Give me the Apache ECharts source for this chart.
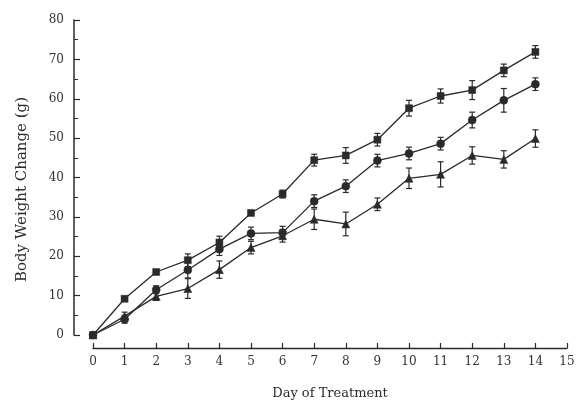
<!DOCTYPE html>
<html>
<head>
<meta charset="utf-8">
<style>
  html, body { margin: 0; padding: 0; background: #ffffff; }
  #chart { width: 581px; height: 405px; }
</style>
<script src="https://cdn.jsdelivr.net/npm/echarts@6/dist/echarts.min.js"></script>
</head>
<body>
<div id="chart"></div>
<script>
// Day of treatment
var days = [0, 1, 2, 3, 4, 5, 6, 7, 8, 9, 10, 11, 12, 13, 14];

// Mean body weight change (g) per group
var squareMean   = [0, 9.2, 16, 19, 23.5, 31, 35.8, 44.4, 45.6, 49.6, 57.6, 60.7, 62.2, 67.2, 71.9];
var circleMean   = [0, 4.0, 11.5, 16.5, 21.8, 25.8, 26, 34, 37.8, 44.3, 46.1, 48.6, 54.6, 59.6, 63.7];
var triangleMean = [0, 4.8, 9.8, 11.8, 16.6, 22.2, 25.2, 29.4, 28.2, 33.2, 39.8, 40.8, 45.6, 44.6, 49.9];

// Standard error half-widths (g)
var squareErr   = [0, 0.6, 0.6, 1.6, 1.6, 0.6, 1.0, 1.5, 2.0, 1.6, 2.0, 1.8, 2.4, 1.6, 1.6];
var circleErr   = [0, 1.0, 1.0, 2.0, 1.6, 1.6, 1.6, 1.6, 1.6, 1.6, 1.6, 1.6, 2.0, 3.0, 1.6];
var triangleErr = [0, 1.0, 1.0, 2.5, 2.2, 1.6, 1.6, 2.6, 3.0, 1.6, 2.6, 3.2, 2.2, 2.2, 2.2];

var ink = '#2a2a2a';
var serif = 'DejaVu Serif';

function pairs(mean) {
  return days.map(function (d, i) { return [d, mean[i]]; });
}
function bars(mean, err) {
  return days.map(function (d, i) { return [d, mean[i] - err[i], mean[i] + err[i]]; });
}

// Vertical error bar with flat caps
function renderErrorBar(params, api) {
  var lo = api.coord([api.value(0), api.value(1)]);
  var hi = api.coord([api.value(0), api.value(2)]);
  var half = 3;
  var style = { stroke: ink, lineWidth: 1.2, fill: null };
  return {
    type: 'group',
    children: [
      { type: 'line', shape: { x1: lo[0], y1: lo[1], x2: hi[0], y2: hi[1] }, style: style },
      { type: 'line', shape: { x1: lo[0] - half, y1: lo[1], x2: lo[0] + half, y2: lo[1] }, style: style },
      { type: 'line', shape: { x1: hi[0] - half, y1: hi[1], x2: hi[0] + half, y2: hi[1] }, style: style }
    ]
  };
}

function lineSeries(name, mean, symbol, size) {
  return {
    name: name,
    type: 'line',
    data: pairs(mean),
    symbol: symbol,
    symbolSize: size,
    showAllSymbol: true,
    lineStyle: { color: ink, width: 1.3 },
    itemStyle: { color: ink, borderColor: ink, borderWidth: 0.5 },
    z: 3,
    animation: false
  };
}
function errSeries(name, mean, err) {
  return {
    name: name,
    type: 'custom',
    data: bars(mean, err),
    renderItem: renderErrorBar,
    z: 2,
    animation: false
  };
}

var chart = echarts.init(document.getElementById('chart'), null, { renderer: 'canvas' });
chart.setOption({
  backgroundColor: '#ffffff',
  animation: false,
  grid: { left: 93, right: 14, top: 20, bottom: 66, containLabel: false },
  xAxis: {
    type: 'value',
    min: 0, max: 15, interval: 1,
    offset: 13,
    name: 'Day of Treatment',
    nameLocation: 'middle',
    nameGap: 39,
    nameTextStyle: { fontFamily: serif, fontSize: 13, color: ink },
    axisLine: { onZero: false, lineStyle: { color: ink, width: 1.3 } },
    axisTick: { inside: true, length: 5, lineStyle: { color: ink, width: 1.2 } },
    axisLabel: { fontFamily: serif, fontSize: 12, color: '#333', margin: 8 },
    splitLine: { show: false }
  },
  yAxis: {
    type: 'value',
    min: 0, max: 80, interval: 10,
    offset: 19,
    name: 'Body Weight Change (g)',
    nameLocation: 'middle',
    nameGap: 44,
    nameTextStyle: { fontFamily: serif, fontSize: 15, color: ink, padding: [0, 24, 0, 0] },
    axisLine: { onZero: false, lineStyle: { color: ink, width: 1.5 } },
    axisTick: { inside: true, length: 6, lineStyle: { color: ink, width: 1.2 } },
    minorTick: { show: true, splitNumber: 2, length: 4, lineStyle: { color: ink, width: 1 } },
    axisLabel: { fontFamily: serif, fontSize: 12, color: '#333', margin: 10 },
    splitLine: { show: false }
  },
  series: [
    errSeries('squareErr', squareMean, squareErr),
    errSeries('circleErr', circleMean, circleErr),
    errSeries('triangleErr', triangleMean, triangleErr),
    lineSeries('square', squareMean, 'rect', 7),
    lineSeries('circle', circleMean, 'circle', 8),
    lineSeries('triangle', triangleMean, 'triangle', 8)
  ]
});
</script>
</body>
</html>
